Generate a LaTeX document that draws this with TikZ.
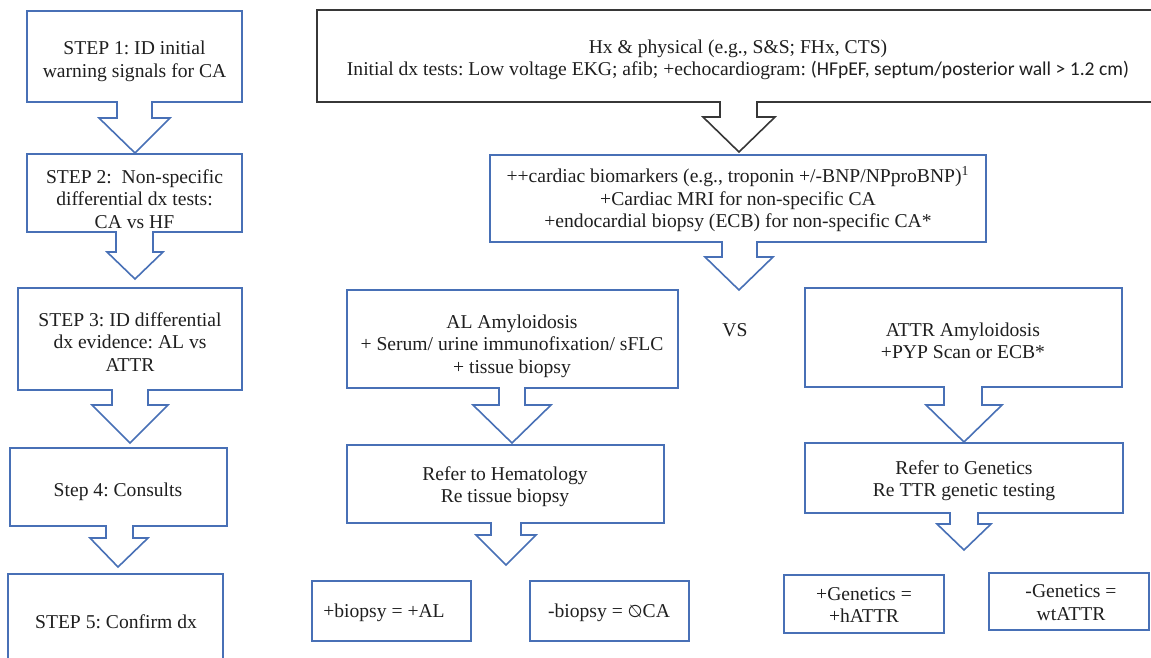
\documentclass[tikz,border=0pt]{standalone}
\usepackage{fontspec}
\usepackage{graphicx}
\setmainfont{Liberation Serif}
\newfontfamily\calibri{Carlito}
\newfontfamily\symfont{DejaVu Sans}
\usetikzlibrary{fit}
\definecolor{boxblue}{RGB}{72,112,182}
\definecolor{boxdark}{RGB}{55,55,55}
\tikzset{
  box/.style={draw=boxblue, line width=0.8pt, inner sep=0pt, fill=white},
  darkbox/.style={draw=boxdark, line width=0.8pt, inner sep=0pt, fill=white},
  txt/.style={align=center, inner sep=0pt, font=\fontsize{9.8}{11.2}\selectfont\frenchspacing, text=black!88},
  barrowblue/.style={draw=boxblue, line width=0.8pt, line join=miter},
  barrowdark/.style={draw=boxdark, line width=0.8pt, line join=miter}
}
% block arrow: #1 style, #2 top y, #3 shaft left, #4 shaft right, #5 head y, #6 head left, #7 head right, #8 tip x, #9 tip y
\newcommand{\blockarrow}[9]{%
  \draw[#1, fill=white] (#3,#2-0.9) -- (#3,#5) -- (#6,#5) -- (#8,#9) -- (#7,#5) -- (#4,#5) -- (#4,#2-0.9);
}
\begin{document}
\begin{tikzpicture}[x=0.5pt, y=-0.5pt]
\clip (0,0) rectangle (1151,658);
\fill[white] (0,0) rectangle (1151,658);

% left column boxes
\node[box, fit={(27,11) (242,102)}] (s1) {};
\node[box, fit={(27,154) (242,232)}] (s2) {};
\node[box, fit={(18,288) (242,390)}] (s3) {};
\node[box, fit={(10,448) (227,526)}] (s4) {};
\node[box, fit={(8,574) (223,700)}] (s5) {};

% right part boxes
\node[darkbox, fit={(317,10) (1160,102)}] (top) {};
\node[box, fit={(490,155) (986,242)}] (bio) {};
\node[box, fit={(347,290) (678,388)}] (al) {};
\node[box, fit={(805,288) (1122,387)}] (attr) {};
\node[box, fit={(347,445) (664,523)}] (hem) {};
\node[box, fit={(805,443) (1123,513)}] (gen) {};
\node[box, fit={(312,581) (471,641)}] (pb) {};
\node[box, fit={(530,581) (689,641)}] (nb) {};
\node[box, fit={(784,575) (944,633)}] (pg) {};
\node[box, fit={(989,573) (1149,630)}] (ng) {};

% block arrows
\blockarrow{barrowblue}{102}{117}{152}{118}{99}{170}{135}{153}
\blockarrow{barrowblue}{232}{116}{153}{252}{107}{163}{135}{279}
\blockarrow{barrowblue}{390}{112}{148}{405}{92}{168}{130}{443}
\blockarrow{barrowblue}{526}{106}{133}{538}{90}{148}{118}{567}
\blockarrow{barrowdark}{102}{720}{757}{117}{703}{775}{739}{152}
\blockarrow{barrowblue}{242}{722}{757}{257}{705}{773}{739}{290}
\blockarrow{barrowblue}{388}{499}{525}{405}{473}{551}{512}{443}
\blockarrow{barrowblue}{523}{491}{521}{535}{476}{536}{506}{565}
\blockarrow{barrowblue}{387}{944}{982}{405}{926}{1002}{964}{442}
\blockarrow{barrowblue}{513}{950}{978}{524}{937}{991}{964}{550}

% texts
\node[txt] (s1t) at (134.5,61.5) {STEP 1: ID initial\\warning signals for CA};
\node[txt] (s2t) at (134.5,199) {STEP 2:\ \ Non-specific\\differential dx tests:\\CA vs HF};
\node[txt] (s3t) at (130,342) {STEP 3: ID differential\\dx evidence: AL vs\\ATTR};
\node[txt] (s4t) at (118,492) {Step 4: Consults};
\node[txt] (s5t) at (116,622) {STEP 5: Confirm dx};

\node[txt] (topt) at (738,60) {Hx \& physical (e.g., S\&S; FHx, CTS)\\Initial dx tests: Low voltage EKG; afib; +echocardiogram: {\calibri(HFpEF, septum/posterior wall > 1.2 cm)}};
\node[txt] (biot) at (738,199) {++cardiac biomarkers (e.g., troponin +/-BNP/NPproBNP)\textsuperscript{1}\\+Cardiac MRI for non-specific CA\\+endocardial biopsy (ECB) for non-specific CA*};
\node[txt] (vs) at (735,330) {VS};
\node[txt] (alt) at (512,346) {AL Amyloidosis\\+ Serum/ urine immunofixation/ sFLC\\+ tissue biopsy};
\node[txt] (attrt) at (963,341) {ATTR Amyloidosis\\+PYP Scan or ECB*};
\node[txt] (hemt) at (505,486.5) {Refer to Hematology\\Re tissue biopsy};
\node[txt] (gent) at (964,480.5) {Refer to Genetics\\Re TTR genetic testing};
\node[txt] (pbt) at (384,613) {+biopsy = +AL};
\node[txt] (nbt) at (609,613) {-biopsy = \reflectbox{\symfont\fontsize{8.6}{10}\selectfont ∅}CA};
\node[txt] (pgt) at (864,605) {+Genetics =\\+hATTR};
\node[txt] (ngt) at (1071,602.5) {-Genetics =\\wtATTR};
\end{tikzpicture}
\end{document}
